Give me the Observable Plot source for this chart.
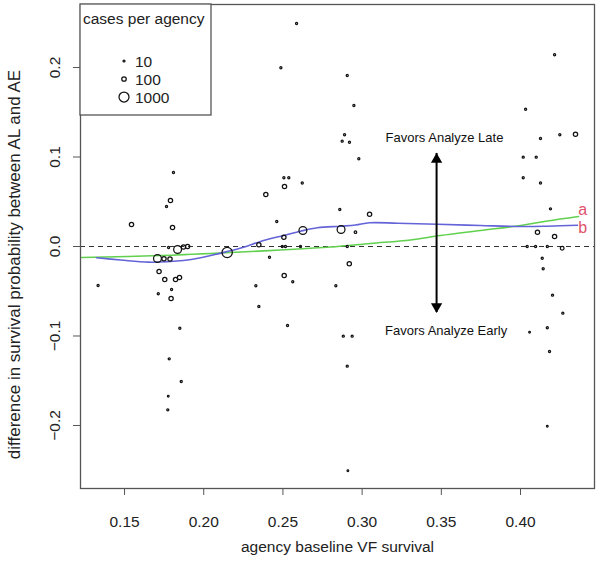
<!DOCTYPE html>
<html>
<head>
<meta charset="utf-8">
<script src="https://cdn.jsdelivr.net/npm/d3@7"></script>
<script src="https://cdn.jsdelivr.net/npm/@observablehq/plot@0.6"></script>
<style>
  html, body { margin: 0; padding: 0; background: #fff; }
  #chart { width: 601px; height: 565px; }
</style>
</head>
<body>
<div id="chart"></div>
<script>
// ---- data ----
const xTicks = [0.15, 0.20, 0.25, 0.30, 0.35, 0.40];
const yTicks = [-0.2, -0.1, 0.0, 0.1, 0.2];

// agency points: baseline survival (x), difference AL-AE (y), cases per agency
const ptX = [
  0.1333, 0.1544, 0.1809, 0.1790, 0.1765, 0.1803, 0.1778, 0.1835, 0.1872, 0.1898,
  0.1708, 0.1749, 0.1787, 0.1718, 0.1754, 0.1822, 0.1847, 0.1797, 0.1713, 0.1794,
  0.1849, 0.1782, 0.1858, 0.1776, 0.1773, 0.2148,
  0.2586, 0.2487, 0.2506, 0.2537, 0.2510, 0.2622, 0.2392, 0.2461, 0.2506, 0.2348,
  0.2626, 0.2496, 0.2516, 0.2611, 0.2415, 0.2508, 0.2562, 0.2329, 0.2348, 0.2529,
  0.2906, 0.2948, 0.2889, 0.2874, 0.2920, 0.2979, 0.2859, 0.2867, 0.3047, 0.2958,
  0.2906, 0.2919, 0.2834, 0.2881, 0.2937, 0.2906, 0.2910,
  0.4215, 0.4032, 0.4126, 0.4248, 0.4347, 0.4017, 0.4099, 0.4017, 0.4126, 0.4189,
  0.4107, 0.4215, 0.4042, 0.4095, 0.4169, 0.4263, 0.4137, 0.4143, 0.4202, 0.4267,
  0.4169, 0.4057, 0.4183, 0.4169
];
const ptY = [
  -0.0436, 0.0246, 0.0827, 0.0514, 0.0447, 0.0212, -0.0011, -0.0034, -0.0006, 0.0000,
  -0.0134, -0.0137, -0.0140, -0.0279, -0.0369, -0.0369, -0.0346, -0.0480, -0.0528, -0.0581,
  -0.0913, -0.1255, -0.1508, -0.1673, -0.1825, -0.0067,
  0.2492, 0.1997, 0.0768, 0.0768, 0.0670, 0.0709, 0.0581, 0.0279, 0.0104, 0.0019,
  0.0179, 0.0000, 0.0000, 0.0000, -0.0120, -0.0324, -0.0394, -0.0439, -0.0670, -0.0883,
  0.1911, 0.1575, 0.1248, 0.1177, 0.1165, 0.0980, 0.0413, 0.0190, 0.0361, 0.0160,
  0.0000, -0.0193, -0.0439, -0.1002, -0.1002, -0.1337, -0.2506,
  0.2142, 0.1534, 0.1207, 0.1248, 0.1255, 0.0998, 0.0998, 0.0768, 0.0709, 0.0421,
  0.0160, 0.0112, 0.0000, 0.0000, 0.0000, -0.0019, -0.0131, -0.0249, -0.0544, -0.0745,
  -0.0908, -0.0958, -0.1173, -0.2008
];
const ptCases = [
  12, 90, 12, 90, 12, 90, 12, 500, 90, 90,
  500, 90, 90, 90, 90, 90, 90, 12, 12, 90,
  12, 12, 12, 6, 12, 1100,
  12, 12, 12, 12, 90, 12, 90, 12, 90, 90,
  500, 12, 12, 12, 12, 90, 12, 12, 12, 12,
  12, 12, 12, 12, 12, 12, 12, 500, 90, 20,
  12, 90, 12, 12, 12, 12, 6,
  12, 12, 12, 12, 90, 12, 12, 12, 12, 12,
  90, 90, 12, 12, 12, 60, 12, 12, 12, 12,
  12, 6, 12, 6
];

// smoothed curve "a" (green)
const curveAX = [0.1229, 0.1727, 0.2169, 0.2485, 0.2801, 0.3053, 0.3306, 0.3495, 0.3747, 0.4019, 0.4170, 0.4366];
const curveAY = [-0.0123, -0.0101, -0.0067, -0.0039, -0.0006, 0.0034, 0.0073, 0.0123, 0.0179, 0.0240, 0.0285, 0.0335];
// smoothed curve "b" (blue)
const curveBX = [0.1323, 0.1475, 0.1652, 0.1872, 0.1980, 0.2148, 0.2251, 0.2359, 0.2504, 0.2611, 0.2718, 0.2864, 0.2958, 0.3047, 0.3223, 0.3476, 0.3747, 0.4019, 0.4170, 0.4360];
const curveBY = [-0.0126, -0.0151, -0.0175, -0.0156, -0.0126, -0.0056, -0.0008, 0.0056, 0.0123, 0.0171, 0.0209, 0.0227, 0.0240, 0.0265, 0.0260, 0.0249, 0.0235, 0.0223, 0.0227, 0.0238];

const curveLabels = ["a", "b"];
const curveLabelX = [0.4393, 0.4393];
const curveLabelY = [0.0410, 0.0209];

const arrowX = 0.347;
const arrowY = [-0.0737, 0.104];   // bottom tip, top tip
const noteText = ["Favors Analyze Late", "Favors Analyze Early"];
const noteX = [0.352, 0.353];
const noteY = [0.1215, -0.0939];

const legendCases = [10, 100, 1000];
const legendTitle = "cases per agency";
const xTitle = "agency baseline VF survival";
const yTitle = "difference in survival probability between AL and AE";

// ---- build tables ----
const points = ptX.map((x, i) => ({x, y: ptY[i], cases: ptCases[i]}));
const lineA = curveAX.map((x, i) => ({x, y: curveAY[i]}));
const lineB = curveBX.map((x, i) => ({x, y: curveBY[i]}));
const labels = curveLabels.map((t, i) => ({t, x: curveLabelX[i], y: curveLabelY[i]}));
const notes = noteText.map((t, i) => ({t, x: noteX[i], y: noteY[i]}));

const FONT = "'Liberation Sans', Arial, Helvetica, sans-serif";

const chart = Plot.plot({
  width: 601,
  height: 565,
  marginLeft: 80,
  marginRight: 7,
  marginTop: 4,
  marginBottom: 77,
  style: {fontFamily: FONT, fontSize: "15.5px", color: "#222", background: "#fff", overflow: "visible"},
  x: {domain: [0.1222, 0.4467]},
  y: {domain: [-0.2704, 0.2704]},
  r: {type: "pow", exponent: 0.35, domain: [0, 1000], range: [0, 5]},
  marks: [
    Plot.ruleY([0], {stroke: "#333", strokeWidth: 1.2, strokeDasharray: "5,4"}),
    Plot.line(lineA, {x: "x", y: "y", stroke: "#61D04F", strokeWidth: 1.6, curve: "catmull-rom"}),
    Plot.line(lineB, {x: "x", y: "y", stroke: "#6464d8", strokeWidth: 1.6, curve: "catmull-rom"}),
    Plot.dot(points, {x: "x", y: "y", r: "cases", stroke: "#111", fill: "none", strokeWidth: 1.25}),
    Plot.ruleX([arrowX], {y1: arrowY[0], y2: arrowY[1], stroke: "#000", strokeWidth: 2}),
    Plot.dot([arrowY[1]], {x: () => arrowX, y: d => d, symbol: "triangle", r: 4.2, fill: "#000", stroke: "none", dy: 6}),
    Plot.dot([arrowY[0]], {x: () => arrowX, y: d => d, symbol: "triangle", r: 4.2, fill: "#000", stroke: "none", rotate: 180, dy: -6}),
    Plot.text(notes, {x: "x", y: "y", text: "t", fontSize: 13, fill: "#111"}),
    Plot.text(labels, {x: "x", y: "y", text: "t", fontSize: 16, fill: "#DF536B"}),
    Plot.frame({stroke: "#555", strokeWidth: 1.3}),
    Plot.axisX({ticks: xTicks, tickFormat: d3.format(".2f"), tickSize: 7, tickPadding: 20, stroke: "#555", label: null}),
    Plot.axisY({ticks: yTicks, tickFormat: () => "", tickSize: 7, stroke: "#555", label: null}),
    Plot.text(yTicks, {y: d => d, text: d3.format(".1f"), frameAnchor: "left", textAnchor: "middle", dx: -25, rotate: -90, fill: "#222"}),
    Plot.text([xTitle], {text: d => d, frameAnchor: "bottom", textAnchor: "middle", dy: 63, fill: "#222"}),
    Plot.text([yTitle], {text: d => d, frameAnchor: "left", textAnchor: "middle", dx: -66, dy: 18, rotate: -90, fontSize: 17, fill: "#222"})
  ]
});

document.getElementById("chart").appendChild(chart);

// ---- legend box (inside the top-left corner of the plot) ----
const rScale = chart.scale("r");
const svg = d3.select(chart);
const lg = svg.append("g").attr("font-family", FONT).attr("font-size", "15.5px")
  .attr("fill", "#222").attr("text-anchor", "start");
lg.append("rect").attr("x", 80).attr("y", 4).attr("width", 131).attr("height", 111)
  .attr("fill", "#fff").attr("stroke", "#555").attr("stroke-width", 1.3);
lg.append("text").attr("x", 83).attr("y", 23.5).text(legendTitle);
legendCases.forEach((c, i) => {
  const cy = 61 + i * 18;
  lg.append("circle").attr("cx", 124).attr("cy", cy).attr("r", rScale.apply(c))
    .attr("fill", "none").attr("stroke", "#111").attr("stroke-width", 1.25);
  lg.append("text").attr("x", 135).attr("y", cy + 5.5).text(String(c));
});
</script>
</body>
</html>
